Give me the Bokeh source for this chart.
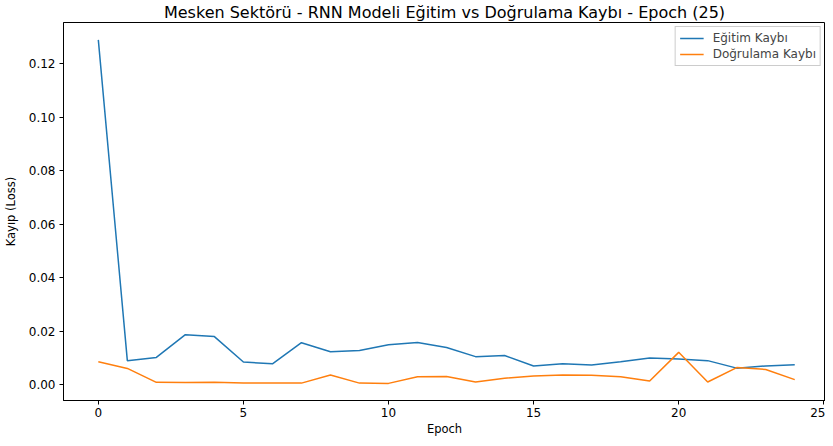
from bokeh.plotting import figure
from bokeh.models import ColumnDataSource, Legend, LegendItem, FixedTicker, NumeralTickFormatter, Range1d
from bokeh.embed import file_html
from bokeh.resources import INLINE

epochs = list(range(25))
egitim_kaybi = [0.1290, 0.0091, 0.0103, 0.0188, 0.0181, 0.0086, 0.0079, 0.0158, 0.0124, 0.0129,
                0.0150, 0.0159, 0.0140, 0.0106, 0.0110, 0.0071, 0.0079, 0.0075, 0.0087, 0.0101,
                0.0097, 0.0091, 0.0063, 0.0071, 0.0076]
dogrulama_kaybi = [0.0087, 0.0062, 0.0010, 0.0009, 0.0010, 0.0007, 0.0007, 0.0007, 0.0037, 0.0007,
                   0.0006, 0.0031, 0.0032, 0.0011, 0.0025, 0.0034, 0.0037, 0.0036, 0.0031, 0.0015,
                   0.0122, 0.0011, 0.0065, 0.0058, 0.0020]
x_ticks = [0, 5, 10, 15, 20, 25]
y_ticks = [0.00, 0.02, 0.04, 0.06, 0.08, 0.10, 0.12]

FONT = "DejaVu Sans"

p = figure(width=825, height=438, output_backend="svg", toolbar_location=None,
           x_range=Range1d(-1.2, 25.06), y_range=Range1d(-0.0058, 0.1355),
           title="Mesken Sektörü - RNN Modeli Eğitim vs Doğrulama Kaybı - Epoch (25)",
           min_border_left=54, min_border_right=0, min_border_top=0, min_border_bottom=0)

src = ColumnDataSource(dict(x=epochs, tr=egitim_kaybi, va=dogrulama_kaybi))
r1 = p.line("x", "tr", source=src, line_color="#1f77b4", line_width=1.5)
r2 = p.line("x", "va", source=src, line_color="#ff7f0e", line_width=1.5)

p.title.align = "center"
p.title.text_font = FONT
p.title.text_font_size = "16px"
p.title.text_font_style = "normal"
p.title.text_color = "black"
p.title.standoff = 1
p.title.offset = 0

p.xgrid.visible = False
p.ygrid.visible = False
p.outline_line_color = "black"
p.outline_line_width = 1
p.outline_line_alpha = 1

p.xaxis.ticker = FixedTicker(ticks=x_ticks)
p.yaxis.ticker = FixedTicker(ticks=y_ticks)
p.yaxis.formatter = NumeralTickFormatter(format="0.00")
p.xaxis.axis_label = "Epoch"
p.yaxis.axis_label = "Kayıp (Loss)"
for ax in (p.xaxis, p.yaxis):
    ax.axis_label_text_font = FONT
    ax.axis_label_text_font_size = "11.5px"
    ax.axis_label_text_font_style = "normal"
    ax.axis_label_text_color = "black"
    ax.major_label_text_font = FONT
    ax.major_label_text_font_size = "12px"
    ax.major_label_text_color = "black"
    ax.major_tick_out = 4
    ax.major_tick_in = 0
    ax.minor_tick_out = 0
    ax.minor_tick_in = 0
    ax.axis_line_color = "black"
    ax.major_tick_line_color = "black"
p.xaxis.major_label_standoff = 3
p.xaxis.axis_label_standoff = 2
p.yaxis.major_label_standoff = 4
p.yaxis.axis_label_standoff = 8

legend = Legend(items=[LegendItem(label="Eğitim Kaybı", renderers=[r1]),
                       LegendItem(label="Doğrulama Kaybı", renderers=[r2])],
                location="top_right")
legend.label_text_font = FONT
legend.label_text_font_size = "12px"
legend.border_line_color = "#cccccc"
legend.border_line_alpha = 1
legend.background_fill_alpha = 0.8
legend.glyph_width = 24
legend.glyph_height = 12
legend.spacing = 2
legend.padding = 4
legend.margin = 4
legend.label_standoff = 9
legend.label_height = 14
p.add_layout(legend)

open("out.html", "w").write(file_html(p, INLINE))
